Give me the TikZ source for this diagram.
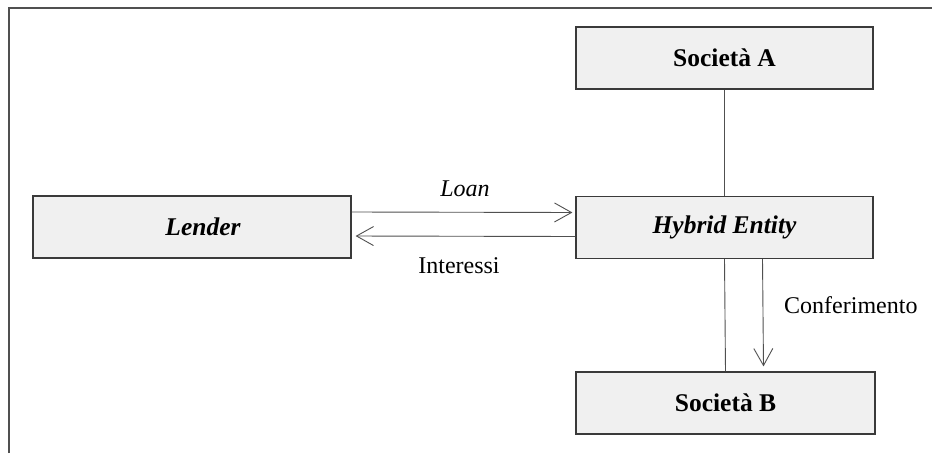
\documentclass[tikz,border=0pt]{standalone}
\usepackage{fontspec}
\setmainfont{Liberation Serif}
\usetikzlibrary{arrows.meta}
\definecolor{boxfill}{HTML}{F0F0F0}
\definecolor{boxline}{HTML}{3A3A3A}
\definecolor{conn}{HTML}{505050}
\begin{document}
\begin{tikzpicture}[x=1pt,y=-1pt,
  entity/.style={draw=boxline, line width=1.2pt, fill=boxfill, minimum width=297pt, minimum height=62pt, inner sep=0pt, font=\fontsize{25.5}{30}\selectfont\bfseries},
  lbl/.style={font=\fontsize{24}{29}\selectfont, inner sep=0pt},
  conline/.style={draw=conn, line width=0.9pt},
  arr/.style={conline, -{Straight Barb[length=17pt, width=19pt, line width=0.9pt]}}]
\useasboundingbox (0,0) rectangle (932,453);
\draw[draw=conn, line width=1.6pt] (9,453) -- (9,8) -- (932,8);
\node[entity] (A) at (724.5,58) {Società A};
\node[entity] (H) at (724.5,227.5) {\itshape Hybrid Entity};
\node[entity, minimum width=318pt] (L) at (192,227) {\hspace*{22pt}\itshape Lender};
\node[entity, minimum width=299pt] (B) at (725.5,403) {Società B};
\draw[conline] (A.south) -- (H.north);
\draw[conline] (H.south) -- (B.north);
\draw[arr, shorten >=3pt] ([yshift=15pt]L.east) -- ([yshift=15pt]H.west);
\draw[arr, shorten >=4pt] ([yshift=-9pt]H.west) -- ([yshift=-9pt]L.east);
\draw[arr] ([xshift=38pt]H.south) -- ([xshift=38pt,yshift=5pt]B.north);
\node[lbl, anchor=base] (loan) at (465,196) {\itshape Loan};
\node[lbl, anchor=base] (int) at (459,273) {Interessi};
\node[lbl, anchor=base west] (conf) at (784,313) {Conferimento};
\end{tikzpicture}
\end{document}
